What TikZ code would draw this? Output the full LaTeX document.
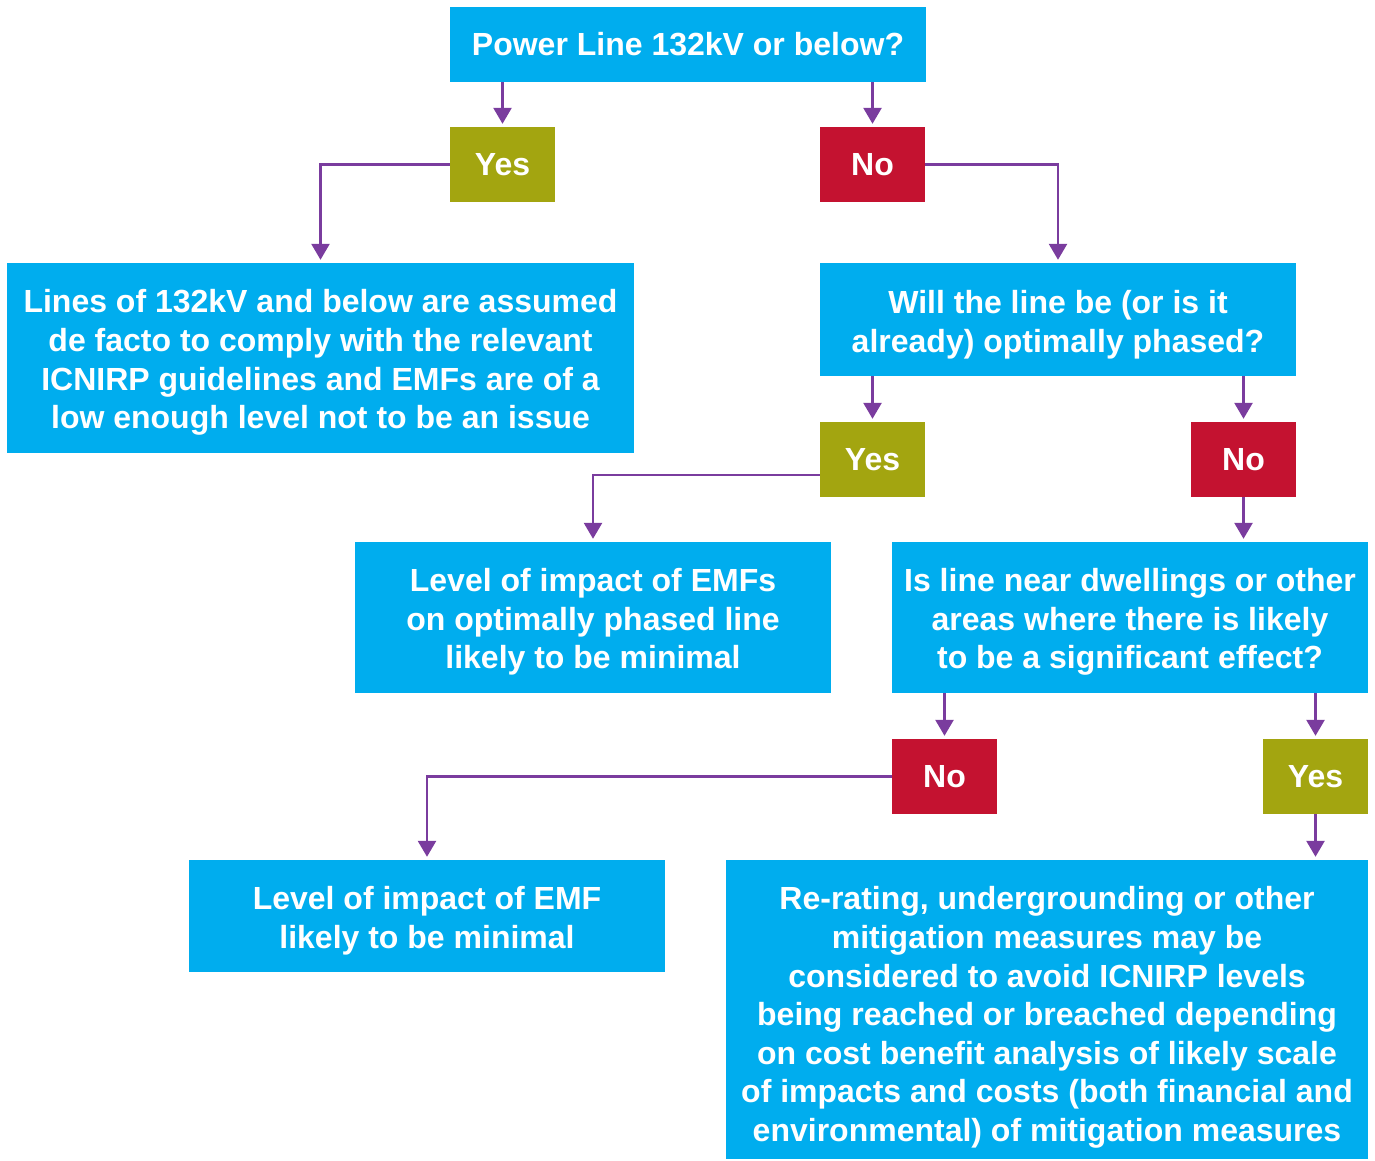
\documentclass[tikz,border=0pt]{standalone}
\usepackage{fontspec}
\setmainfont{Liberation Sans}
\usetikzlibrary{arrows.meta}
\definecolor{cblue}{HTML}{00ADEE}
\definecolor{colive}{HTML}{A3A510}
\definecolor{cred}{HTML}{C41230}
\definecolor{cpurple}{HTML}{7A3C9E}
\begin{document}
\begin{tikzpicture}[x=1pt,y=-1pt,
  box/.style={fill=cblue,inner sep=0pt},
  txt/.style={text=white,font=\fontsize{32}{38.6}\selectfont\bfseries,align=center,inner sep=0pt},
  yesbox/.style={fill=colive,text=white,font=\fontsize{32}{38.6}\selectfont\bfseries,minimum width=105pt,minimum height=75pt,inner sep=0pt},
  nobox/.style={fill=cred,text=white,font=\fontsize{32}{38.6}\selectfont\bfseries,minimum width=105pt,minimum height=75pt,inner sep=0pt},
  arr/.style={draw=cpurple,line width=2.6pt,-{Triangle[width=18pt,length=16pt]},shorten >=3pt}]
\useasboundingbox (0,0) rectangle (1375,1160);
\node[box,minimum width=476pt,minimum height=75pt] (top) at (688,44.5) {};
\node[txt] (topT) at (688,44) {Power Line 132kV or below?};
\node[yesbox] (yes1) at (502.5,164.5) {Yes};
\node[nobox] (no1) at (872.5,164.5) {No};
\node[box,minimum width=627pt,minimum height=190pt] (left) at (320.5,358) {};
\node[txt] (leftT) at (320.5,362.5) {Lines of 132kV and below are assumed\\de facto to comply with the relevant\\ICNIRP guidelines and EMFs are of a\\low enough level not to be an issue};
\node[box,minimum width=476pt,minimum height=113pt] (will) at (1058,319.5) {};
\node[txt] (willT) at (1058,324.5) {Will the line be (or is it\\already) optimally phased?};
\node[yesbox] (yes2) at (872.5,459.5) {Yes};
\node[nobox] (no2) at (1243.5,459.5) {No};
\node[box,minimum width=476pt,minimum height=151pt] (lev1) at (593,617.5) {};
\node[txt] (lev1T) at (593,622) {Level of impact of EMFs\\on optimally phased line\\likely to be minimal};
\node[box,minimum width=476pt,minimum height=151pt] (isl) at (1130,617.5) {};
\node[txt] (islT) at (1130,622) {Is line near dwellings or other\\areas where there is likely\\to be a significant effect?};
\node[nobox] (no3) at (944.5,776.5) {No};
\node[yesbox] (yes3) at (1315.5,776.5) {Yes};
\node[box,minimum width=476pt,minimum height=112pt] (lev2) at (427,916) {};
\node[txt] (lev2T) at (427,921) {Level of impact of EMF\\likely to be minimal};
\node[box,minimum width=642pt,minimum height=299pt] (rer) at (1047,1009.5) {};
\node[txt] (rerT) at (1047,1017.5) {Re-rating, undergrounding or other\\mitigation measures may be\\considered to avoid ICNIRP levels\\being reached or breached depending\\on cost benefit analysis of likely scale\\of impacts and costs (both financial and\\environmental) of mitigation measures};
\draw[arr] (yes1.north |- top.south) -- (yes1.north);
\draw[arr] (no1.north |- top.south) -- (no1.north);
\draw[arr] (yes1.west) -| (left.north);
\draw[arr] (no1.east) -| (will.north);
\draw[arr] (yes2.north |- will.south) -- (yes2.north);
\draw[arr] (no2.north |- will.south) -- (no2.north);
\draw[arr] ([yshift=-15.5pt]yes2.west) -| (lev1.north);
\draw[arr] (no2.south) -- (no2.south |- isl.north);
\draw[arr] (no3.north |- isl.south) -- (no3.north);
\draw[arr] (yes3.north |- isl.south) -- (yes3.north);
\draw[arr] (no3.west) -| (lev2.north);
\draw[arr] (yes3.south) -- (yes3.south |- rer.north);
\end{tikzpicture}
\end{document}
